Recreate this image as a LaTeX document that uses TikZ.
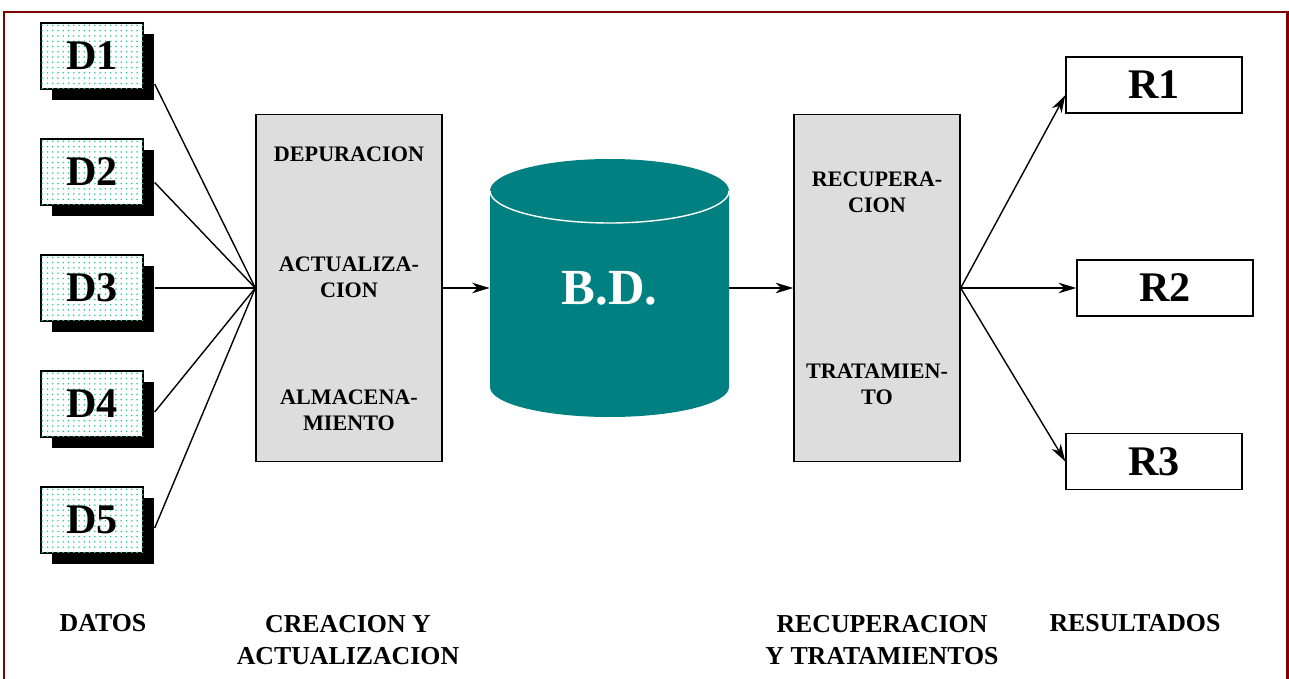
\documentclass[tikz,border=0pt]{standalone}
\usepackage{fontspec}
\setmainfont{Liberation Serif}
\usetikzlibrary{arrows.meta,patterns,shadows}

\definecolor{framered}{RGB}{128,0,0}
\definecolor{dotgreen}{RGB}{40,200,150}
\definecolor{boxgray}{RGB}{221,221,221}
\definecolor{dbteal}{RGB}{0,128,128}

\begin{document}
\begin{tikzpicture}[x=0.02cm,y=-0.02cm]
\tikzset{datum/.style = {draw,line width=0.8pt,fill=white,minimum width=2.04cm,minimum height=1.32cm,inner sep=0pt,
  postaction={pattern=dots,pattern color=dotgreen},
  drop shadow={shadow xshift=0.22cm,shadow yshift=-0.22cm,opacity=1,fill=black},
  font=\fontsize{24}{24}\selectfont\bfseries}}
\tikzset{procbox/.style = {draw,line width=0.8pt,fill=boxgray,minimum height=6.94cm,inner sep=0pt}}
\tikzset{result/.style = {draw,line width=0.8pt,fill=white,minimum width=3.52cm,minimum height=1.12cm,inner sep=0pt,
  font=\fontsize{24}{24}\selectfont\bfseries}}
\tikzset{steplabel/.style = {align=center,inner sep=0pt,font=\fontsize{12.6}{14.7}\selectfont\bfseries}}
\tikzset{caption/.style = {align=center,inner sep=0pt,font=\fontsize{14.7}{18.7}\selectfont\bfseries}}
\tikzset{link/.style = {line width=0.8pt}}
\tikzset{edge/.style = {line width=0.8pt,-{Stealth[length=10pt,width=6pt,inset=3pt]}}}

\useasboundingbox (0,0) rectangle (1289,679);
\draw[framered,line width=1.7pt] (4,679) -- (4,12) -- (1287,12) -- (1287,679);

\node[datum] (d1) at (92,56) {D1};
\node[datum] (d2) at (92,172) {D2};
\node[datum] (d3) at (92,288) {D3};
\node[datum] (d4) at (92,404) {D4};
\node[datum] (d5) at (92,520) {D5};

\node[procbox,minimum width=3.72cm] (crea) at (349,288) {};
\node[steplabel] (depu) at (349,154.5) {DEPURACION};
\node[steplabel] (actu) at (349,277) {ACTUALIZA-\\CION};
\node[steplabel] (alma) at (349,410) {ALMACENA-\\MIENTO};

% base de datos
\fill[dbteal] (490,191) -- (490,387) arc[start angle=180,end angle=0,x radius=119.5,y radius=30] -- (729,191) -- cycle;
\fill[dbteal] (609.5,191) ellipse[x radius=119.5,y radius=32];
\draw[white,line width=0.8pt] (490,191) arc[start angle=180,end angle=0,x radius=119.5,y radius=32];
\node[text=white,minimum width=4.78cm,inner sep=0pt,font=\fontsize{28.8}{28.8}\selectfont\bfseries] (bd) at (609.5,288) {B.D.};

\node[procbox,minimum width=3.32cm] (recu) at (877,288) {};
\node[steplabel] (recup) at (877,192.5) {RECUPERA-\\CION};
\node[steplabel] (trat) at (877,384.5) {TRATAMIEN-\\TO};

\node[result] (r1) at (1154,85) {R1};
\node[result] (r2) at (1165,288) {R2};
\node[result] (r3) at (1154,461.5) {R3};

\draw[link] ([xshift=0.22cm,yshift=-0.56cm]d1.east) -- (crea.west);
\draw[link] ([xshift=0.22cm,yshift=-0.21cm]d2.east) -- (crea.west);
\draw[link] ([xshift=0.22cm]d3.east) -- (crea.west);
\draw[link] ([xshift=0.22cm,yshift=-0.16cm]d4.east) -- (crea.west);
\draw[link] ([xshift=0.22cm,yshift=-0.16cm]d5.east) -- (crea.west);

\draw[edge] (crea.east) -- (bd.west);
\draw[edge] (bd.east) -- (recu.west);

\draw[edge] (recu.east) -- ([yshift=-0.2cm]r1.west);
\draw[edge] (recu.east) -- (r2.west);
\draw[edge] (recu.east) -- (r3.west);

\node[caption] (cdatos) at (103,623) {DATOS};
\node[caption] (ccrea) at (348,640) {CREACION Y\\ACTUALIZACION};
\node[caption] (crecu) at (882,640) {RECUPERACION\\Y TRATAMIENTOS};
\node[caption] (cres) at (1135,623) {RESULTADOS};
\end{tikzpicture}
\end{document}
